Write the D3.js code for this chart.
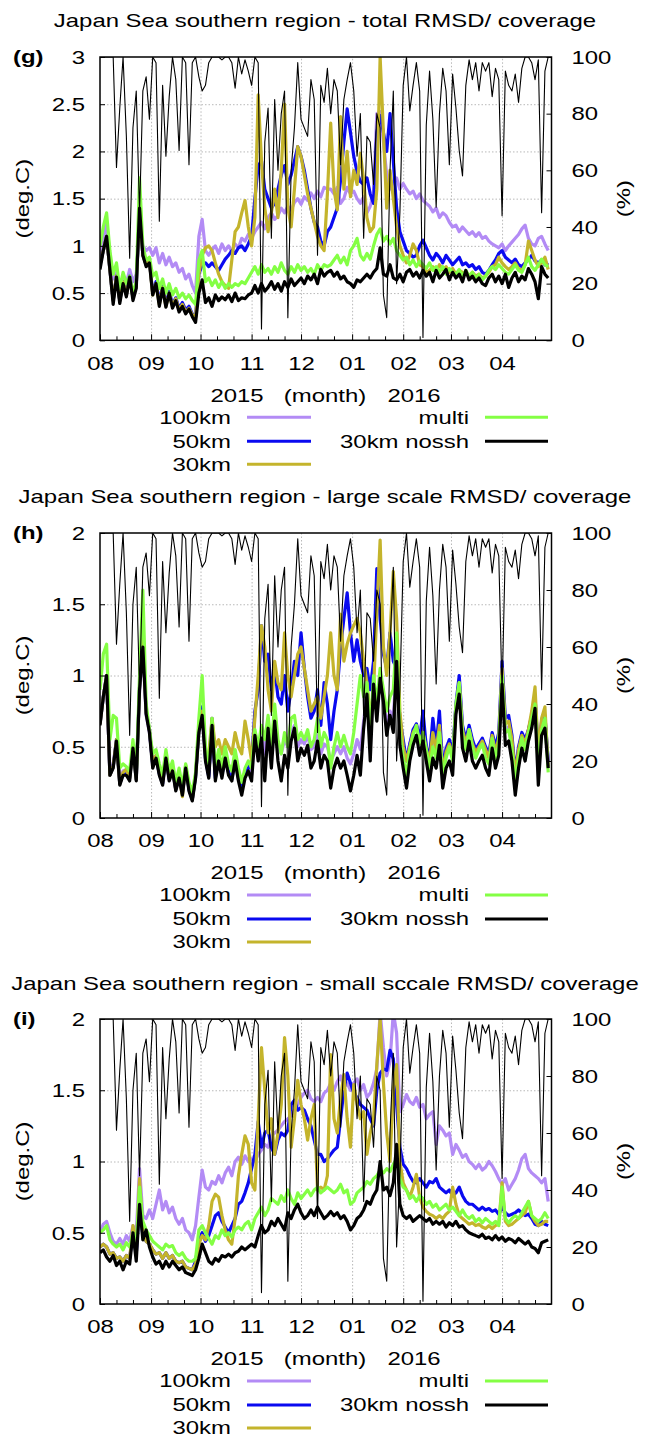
<!DOCTYPE html>
<html><head><meta charset="utf-8">
<script src="https://cdn.jsdelivr.net/npm/d3@7"></script>
<style>
html,body{margin:0;padding:0;background:#fff;}
svg{display:block;}
text{font-family:"Liberation Sans",Arial,Helvetica,sans-serif;fill:#000;}
</style></head><body>
<svg id="chart" width="645" height="1437"></svg>
<script>
// ---------------- DATA ----------------
const startDate = "2015-08-01";
const endDate = "2016-05-01";
const seriesStepDays = 2;     // every series: one value every 2 days from startDate
const coverageStepDays = 2;
const monthLabels = ["08","09","10","11","12","01","02","03","04"];
const seriesNames = ["100km","50km","30km","multi","30km nossh"];
const panelTitles = [
  "Japan Sea southern region - total RMSD/ coverage",
  "Japan Sea southern region - large scale RMSD/ coverage",
  "Japan Sea southern region - small sccale RMSD/ coverage"
];
const panelTags = ["(g)","(h)","(i)"];
const yTicksG = [0,0.5,1,1.5,2,2.5,3];
const yTicksHI = [0,0.5,1,1.5,2];
const y2Ticks = [0,20,40,60,80,100];

// coverage (%) shared by all panels
const coverage = [100,100,100,100,100,61,82,100,72,29,75,88,45,88,93,78,100,98,42,90,65,86,100,92,67,100,98,62,98,100,93,88,90,98,100,100,100,99,100,100,98,89,100,94,99,95,90,100,98,4,70,82,36,85,60,80,88,8,60,75,98,78,75,72,92,85,30,90,84,96,
  80,92,88,62,85,92,98,88,65,80,36,72,70,55,80,75,16,8,60,88,20,45,90,100,81,90,98,88,1,76,95,78,47,80,96,88,62,94,82,67,58,90,99,92,98,88,98,95,98,86,96,92,44,95,90,88,94,84,96,100,100,98,92,99,45,95,100];

// (g) total RMSD
const g100 = [0.8,1.05,1.25,0.9,0.65,0.72,0.55,0.68,0.6,0.75, 0.62,0.7,1.2,1.0,0.95,0.98,0.9,0.98,0.82,0.92, 0.8,0.88,0.78,0.82,0.72,0.76,0.65,0.7,0.58,0.5, 1.1,1.28,0.95,0.9,0.96,1.0,0.92,1.02,0.95,1.0, 0.94,1.02,0.98,1.08,1.05,1.12,1.08,1.15,1.2,1.25, 1.18,1.3,1.35,1.28,1.32,1.4,1.35,1.42,1.38,1.46, 1.5,1.44,1.52,1.48,1.56,1.5,1.58,1.52,1.62,1.6,
  1.6,1.55,1.62,1.45,1.5,1.62,1.55,1.58,1.5,1.45, 1.52,1.35,1.42,1.55,2.4,2.42,2.1,1.75,1.6,1.68, 1.72,1.6,1.66,1.6,1.55,1.58,1.5,1.55,1.48,1.45, 1.42,1.36,1.4,1.3,1.35,1.32,1.25,1.2,1.22,1.15, 1.2,1.16,1.12,1.15,1.1,1.14,1.08,1.1,1.05,1.02, 1.0,0.98,1.02,0.95,1.0,1.04,1.08,1.12,1.18,1.22, 1.08,1.02,1.0,1.08,1.1,1.02,0.95];
const g50 = [0.8,0.95,1.1,0.75,0.42,0.68,0.42,0.62,0.48,0.68, 0.45,0.58,1.4,0.9,0.8,0.84,0.5,0.62,0.4,0.58, 0.38,0.52,0.38,0.45,0.34,0.4,0.32,0.36,0.28,0.25, 0.7,0.8,0.82,0.78,0.82,0.78,0.74,0.8,0.86,0.9, 0.95,0.92,0.98,1.0,0.95,1.02,1.1,1.5,1.85,1.9, 1.6,1.5,1.4,1.45,1.6,1.75,1.85,1.65,1.75,1.9, 2.05,1.95,1.8,1.6,1.4,1.25,1.2,1.05,1.0,1.15,
  1.2,1.3,1.4,1.7,2.1,2.45,2.2,1.95,1.78,1.68, 1.65,1.72,1.55,1.45,2.2,2.38,2.2,2.0,2.4,1.9, 1.4,1.15,1.05,0.95,0.92,0.88,0.9,1.0,1.06,0.98, 0.9,0.85,0.92,0.88,0.82,0.9,0.85,0.8,0.84,0.88, 0.8,0.82,0.78,0.8,0.75,0.78,0.72,0.7,0.74,0.8, 0.85,0.92,0.95,0.88,0.85,0.82,0.86,0.8,0.78,0.82, 0.85,0.9,0.84,0.82,0.85,0.8,0.82];
const g30 = [0.8,0.95,1.1,0.75,0.42,0.68,0.42,0.62,0.48,0.66, 0.45,0.58,1.4,0.9,0.8,0.84,0.48,0.6,0.38,0.56, 0.36,0.5,0.36,0.44,0.32,0.38,0.3,0.34,0.27,0.24, 0.7,0.9,0.98,1.0,0.95,0.82,0.7,0.62,0.58,0.55, 0.85,1.15,1.2,1.35,1.48,1.2,1.0,1.3,2.6,1.9, 1.4,1.15,1.35,1.6,1.3,1.8,2.5,1.4,1.2,1.6, 2.05,1.95,1.75,1.55,1.4,1.25,1.1,1.0,0.95,1.55,
  2.3,1.6,1.38,2.37,1.6,2.0,1.52,1.8,1.65,1.98, 1.7,1.3,1.15,1.2,1.6,3.0,2.2,1.4,1.8,1.5, 1.2,1.0,0.9,0.82,0.9,1.02,0.95,0.8,0.78,0.72, 0.74,0.78,0.72,0.8,0.75,0.78,0.72,0.76,0.7,0.74, 0.72,0.7,0.68,0.72,0.68,0.7,0.66,0.68,0.72,0.78, 0.8,0.88,0.82,0.78,0.75,0.78,0.82,0.76,0.74,0.8, 1.05,0.95,0.85,0.78,0.82,0.88,0.75];
const gMulti = [1.0,1.2,1.35,0.95,0.7,0.82,0.55,0.72,0.6,0.68, 0.5,0.62,1.72,1.0,0.85,0.88,0.68,0.72,0.55,0.65, 0.5,0.6,0.48,0.55,0.45,0.5,0.44,0.48,0.42,0.38, 0.85,0.95,0.62,0.66,0.58,0.64,0.56,0.62,0.55,0.6, 0.56,0.6,0.58,0.62,0.6,0.66,0.72,0.78,0.7,0.8, 0.72,0.76,0.7,0.78,0.72,0.82,0.74,0.7,0.78,0.72, 0.8,0.74,0.78,0.72,0.76,0.7,0.8,0.74,0.8,0.78,
  0.8,0.85,0.9,0.82,0.88,0.8,0.95,1.0,1.08,0.9, 0.85,0.92,0.86,1.0,1.12,1.18,1.05,1.1,1.02,1.08, 0.95,0.9,0.85,0.88,0.8,0.85,0.78,0.84,0.8,0.76, 0.82,0.74,0.78,0.72,0.78,0.7,0.76,0.72,0.7,0.75, 0.68,0.74,0.68,0.72,0.66,0.7,0.64,0.68,0.74,0.78, 0.75,0.8,0.76,0.72,0.7,0.75,0.8,0.74,0.72,0.8, 0.88,0.78,0.74,0.8,0.86,0.8,0.78];
const gNossh = [0.75,0.95,1.1,0.75,0.38,0.67,0.39,0.6,0.46,0.67, 0.42,0.55,1.4,0.9,0.78,0.82,0.48,0.6,0.36,0.55, 0.35,0.5,0.34,0.42,0.3,0.36,0.28,0.33,0.25,0.19, 0.5,0.64,0.4,0.45,0.36,0.48,0.42,0.46,0.43,0.48, 0.41,0.5,0.42,0.45,0.44,0.48,0.5,0.58,0.5,0.6, 0.52,0.56,0.62,0.54,0.6,0.52,0.62,0.56,0.65,0.58, 0.62,0.66,0.6,0.68,0.64,0.7,0.6,0.75,0.68,0.72,
  0.74,0.68,0.72,0.65,0.68,0.62,0.6,0.56,0.64,0.62, 0.66,0.7,0.66,0.72,0.76,0.98,0.7,0.68,0.8,0.66, 0.64,0.7,0.62,0.72,0.75,0.68,0.72,0.66,0.74,0.68, 0.72,0.62,0.74,0.66,0.7,0.75,0.64,0.72,0.66,0.7, 0.62,0.74,0.64,0.68,0.62,0.66,0.6,0.58,0.66,0.7, 0.62,0.68,0.6,0.7,0.56,0.66,0.72,0.62,0.68,0.64, 0.76,0.7,0.62,0.44,0.78,0.7,0.66];

// (h) large scale RMSD
const h100 = [0.68,0.85,0.98,0.32,0.38,0.55,0.26,0.33,0.34,0.3, 0.5,0.3,0.9,1.2,0.72,0.6,0.38,0.44,0.33,0.26, 0.44,0.3,0.36,0.22,0.3,0.2,0.36,0.22,0.15,0.3, 0.62,0.74,0.42,0.3,0.66,0.3,0.42,0.32,0.44,0.33, 0.3,0.42,0.3,0.2,0.3,0.35,0.3,0.6,0.45,0.6, 0.45,0.65,0.5,0.7,0.5,0.45,0.55,0.5,0.6,0.65, 0.5,0.55,0.52,0.58,0.48,0.5,0.6,0.45,0.52,0.5,
  0.4,0.45,0.5,0.45,0.5,0.42,0.38,0.45,0.55,0.48, 0.68,0.88,0.52,0.95,0.75,1.0,0.85,0.65,0.75,0.7, 1.1,0.6,0.5,0.4,0.52,0.6,0.66,0.55,0.62,0.52, 0.42,0.52,0.48,0.6,0.4,0.5,0.54,0.45,0.76,0.9, 0.6,0.52,0.62,0.52,0.48,0.52,0.55,0.48,0.44,0.58, 0.48,0.55,1.02,0.62,0.64,0.52,0.32,0.48,0.58,0.52, 0.62,0.7,0.82,0.4,0.66,0.7,0.4];
const h50 = [0.66,0.85,1.0,0.3,0.36,0.55,0.24,0.31,0.32,0.28, 0.5,0.27,0.92,1.25,0.74,0.62,0.37,0.43,0.31,0.24, 0.43,0.27,0.34,0.2,0.29,0.17,0.36,0.2,0.13,0.29, 0.62,0.78,0.42,0.29,0.7,0.28,0.42,0.3,0.44,0.32, 0.27,0.42,0.28,0.22,0.3,0.35,0.4,0.75,0.9,1.35, 1.1,1.15,0.9,1.05,0.85,0.8,1.0,0.75,0.9,1.1, 1.0,1.3,1.05,0.85,0.7,0.75,0.9,0.65,0.95,0.8,
  0.55,0.75,0.9,1.2,1.4,1.58,1.3,1.1,1.25,1.1, 1.0,1.05,0.9,1.1,1.75,1.4,1.15,1.05,1.3,1.1, 1.05,0.7,0.55,0.4,0.52,0.62,0.66,0.55,0.75,0.5, 0.42,0.7,0.5,0.75,0.35,0.48,0.55,0.45,0.8,1.0, 0.65,0.55,0.65,0.55,0.48,0.52,0.56,0.5,0.45,0.6, 0.5,0.6,1.1,0.7,0.72,0.58,0.32,0.5,0.6,0.55, 0.62,0.72,0.85,0.45,0.68,0.72,0.4];
const h30 = [0.66,0.85,1.0,0.3,0.36,0.55,0.24,0.32,0.34,0.28, 0.5,0.27,0.92,1.25,0.74,0.62,0.38,0.44,0.32,0.25, 0.44,0.28,0.35,0.2,0.3,0.15,0.37,0.21,0.13,0.3, 0.62,0.75,0.45,0.45,0.7,0.5,0.55,0.45,0.55,0.5, 0.45,0.6,0.5,0.45,0.68,0.55,0.4,0.7,1.0,1.35, 1.2,0.9,0.75,1.1,0.95,0.9,1.3,1.0,0.85,1.0, 1.15,1.2,1.05,0.9,0.75,0.8,0.85,0.7,0.85,1.0,
  1.3,1.0,0.9,1.43,1.1,1.22,1.3,1.35,1.4,1.3, 1.1,0.95,0.7,0.9,1.45,1.95,1.2,1.0,1.3,1.73, 1.4,0.75,0.5,0.4,0.5,0.6,0.64,0.52,0.6,0.48, 0.4,0.6,0.48,0.65,0.32,0.46,0.52,0.42,0.78,0.95, 0.62,0.52,0.62,0.52,0.46,0.5,0.54,0.48,0.42,0.58, 0.46,0.56,1.05,0.66,0.68,0.55,0.3,0.48,0.58,0.52, 0.62,0.75,0.92,0.45,0.7,0.78,0.36];
const hMulti = [0.9,1.15,1.22,0.55,0.72,0.7,0.35,0.38,0.36,0.33, 0.55,0.3,1.0,1.6,0.8,0.62,0.45,0.48,0.38,0.3, 0.48,0.33,0.4,0.25,0.35,0.22,0.38,0.25,0.18,0.32, 0.7,1.0,0.5,0.35,0.7,0.35,0.48,0.35,0.5,0.38, 0.33,0.48,0.35,0.25,0.35,0.4,0.35,0.62,0.5,0.65, 0.55,0.72,0.5,0.8,0.55,0.45,0.6,0.5,0.7,0.72, 0.55,0.6,0.55,0.62,0.5,0.55,0.7,0.5,0.6,0.55,
  0.35,0.5,0.6,0.5,0.58,0.5,0.45,0.6,0.8,1.0, 0.85,0.95,0.6,1.0,0.8,1.05,0.9,0.75,0.85,0.9, 1.3,0.6,0.42,0.3,0.48,0.58,0.65,0.52,0.6,0.48, 0.35,0.5,0.42,0.6,0.3,0.42,0.5,0.4,0.8,0.95, 0.58,0.48,0.62,0.5,0.42,0.48,0.52,0.42,0.38,0.56, 0.42,0.52,1.0,0.6,0.62,0.48,0.25,0.42,0.56,0.48, 0.6,0.7,0.8,0.35,0.62,0.7,0.32];
const hNossh = [0.65,0.85,1.0,0.3,0.35,0.54,0.23,0.3,0.3,0.26, 0.49,0.26,0.9,1.2,0.73,0.6,0.35,0.42,0.3,0.23, 0.42,0.26,0.33,0.19,0.28,0.16,0.35,0.19,0.12,0.28, 0.6,0.72,0.4,0.28,0.65,0.26,0.4,0.28,0.42,0.3, 0.26,0.4,0.26,0.16,0.28,0.33,0.26,0.58,0.4,0.56, 0.26,0.63,0.35,0.68,0.4,0.26,0.44,0.35,0.54,0.63, 0.4,0.49,0.44,0.51,0.35,0.4,0.54,0.35,0.44,0.4,
  0.21,0.35,0.42,0.35,0.4,0.3,0.19,0.3,0.44,0.3, 0.63,0.87,0.4,0.94,0.68,0.98,0.82,0.58,0.72,0.6, 1.1,0.51,0.35,0.21,0.4,0.51,0.58,0.44,0.54,0.4, 0.26,0.42,0.35,0.51,0.21,0.35,0.4,0.3,0.73,0.87, 0.49,0.4,0.54,0.4,0.35,0.4,0.44,0.35,0.3,0.49, 0.35,0.44,0.94,0.51,0.54,0.4,0.16,0.35,0.49,0.4, 0.54,0.63,0.77,0.23,0.58,0.63,0.35];

// (i) small scale RMSD
const i100 = [0.5,0.56,0.58,0.5,0.44,0.42,0.46,0.42,0.48,0.44, 0.55,0.5,0.95,0.62,0.6,0.66,0.6,0.7,0.8,0.66, 0.72,0.64,0.68,0.6,0.56,0.6,0.52,0.5,0.45,0.55, 0.75,0.94,0.82,0.8,0.86,0.84,0.9,0.85,0.92,0.96, 0.9,1.0,1.03,0.98,1.04,1.0,1.02,1.0,1.05,1.08, 1.12,1.1,1.18,1.2,1.22,1.25,1.28,1.3,1.32,1.36, 1.4,1.45,1.48,1.5,1.44,1.42,1.45,1.42,1.48,1.5,
  1.55,1.5,1.56,1.6,1.52,1.55,1.5,1.55,1.58,1.5, 1.54,1.45,1.48,1.55,1.65,2.05,1.8,1.6,1.7,2.05, 1.9,1.35,1.4,1.47,1.42,1.4,1.45,1.38,1.4,1.3, 1.33,1.35,1.12,1.25,1.22,1.18,1.2,1.05,1.12,1.08, 1.03,1.05,1.0,0.98,0.95,0.98,0.94,0.96,1.0,0.97, 0.93,0.88,0.84,0.88,0.8,0.84,0.88,0.94,1.02,1.05, 0.95,0.92,0.9,0.88,0.85,0.88,0.72];
const i50 = [0.4,0.42,0.4,0.35,0.36,0.32,0.33,0.3,0.34,0.32, 0.5,0.35,0.72,0.48,0.44,0.42,0.38,0.35,0.36,0.32, 0.36,0.32,0.34,0.3,0.29,0.3,0.26,0.25,0.24,0.3, 0.45,0.5,0.44,0.48,0.55,0.62,0.64,0.58,0.54,0.5, 0.55,0.6,0.7,0.72,0.78,0.85,0.95,1.05,1.28,1.1, 1.2,1.22,1.1,1.05,1.15,1.2,1.18,1.22,1.4,1.43, 1.36,1.38,1.36,1.3,1.25,1.15,1.05,1.05,1.0,1.02,
  1.05,1.08,1.1,1.3,1.5,1.62,1.55,1.48,1.45,1.4, 1.38,1.36,1.3,1.25,1.5,1.62,1.65,1.64,1.78,1.72, 1.4,1.1,0.98,0.95,0.9,0.86,0.85,0.88,0.85,0.82, 0.86,0.85,0.88,0.82,0.8,0.78,0.8,0.76,0.78,0.82, 0.76,0.72,0.7,0.7,0.68,0.66,0.68,0.66,0.67,0.65, 0.66,0.63,0.68,0.64,0.62,0.63,0.64,0.66,0.64,0.62, 0.63,0.6,0.56,0.55,0.58,0.56,0.55];
const i30 = [0.4,0.42,0.4,0.35,0.36,0.32,0.33,0.3,0.34,0.32, 0.55,0.38,0.88,0.5,0.44,0.42,0.38,0.35,0.36,0.32, 0.36,0.32,0.34,0.3,0.29,0.3,0.26,0.25,0.24,0.28, 0.42,0.48,0.45,0.55,0.72,0.77,0.75,0.62,0.52,0.45, 0.42,0.6,0.9,1.05,1.18,1.12,0.85,0.8,1.3,1.8, 1.5,1.2,1.3,1.05,1.2,1.4,1.87,1.6,1.1,1.3, 1.57,1.4,1.3,1.15,1.3,1.4,0.8,0.82,0.8,0.9,
  1.75,1.3,1.2,1.45,1.61,1.3,1.1,1.54,1.4,1.3, 1.35,1.05,1.2,1.3,1.68,2.0,1.55,1.2,1.0,1.5, 1.68,1.0,0.85,0.8,0.75,0.82,0.91,0.75,0.68,0.65, 0.63,0.62,0.6,0.62,0.6,0.63,0.65,0.82,0.7,0.62, 0.6,0.58,0.56,0.57,0.55,0.56,0.54,0.53,0.55,0.53, 0.55,0.56,0.85,0.58,0.55,0.56,0.58,0.6,0.62,0.64, 0.72,0.62,0.58,0.55,0.56,0.58,0.58];
const iMulti = [0.5,0.52,0.55,0.45,0.42,0.4,0.42,0.38,0.43,0.4, 0.5,0.42,0.82,0.58,0.52,0.48,0.44,0.42,0.4,0.38, 0.42,0.4,0.41,0.36,0.34,0.36,0.32,0.3,0.3,0.32, 0.52,0.55,0.5,0.46,0.42,0.48,0.46,0.52,0.48,0.5, 0.47,0.52,0.54,0.52,0.56,0.58,0.52,0.6,0.64,0.68, 0.62,0.66,0.74,0.72,0.7,0.76,0.72,0.8,0.74,0.7, 0.78,0.74,0.77,0.8,0.76,0.8,0.82,0.78,0.8,0.82,
  0.8,0.78,0.8,0.84,0.78,0.8,0.7,0.72,0.78,0.8, 0.82,0.86,0.84,0.88,0.9,0.94,0.92,0.95,0.93,0.98, 1.02,0.88,0.82,0.8,0.74,0.76,0.72,0.76,0.74,0.7, 0.72,0.68,0.7,0.66,0.68,0.7,0.66,0.68,0.65,0.62, 0.66,0.62,0.6,0.62,0.58,0.6,0.57,0.6,0.58,0.56, 0.58,0.55,0.82,0.6,0.57,0.6,0.62,0.6,0.64,0.68, 0.72,0.62,0.6,0.58,0.6,0.64,0.6];
const iNossh = [0.36,0.38,0.33,0.3,0.34,0.27,0.3,0.24,0.3,0.28, 0.5,0.3,0.7,0.45,0.52,0.4,0.33,0.28,0.3,0.25, 0.3,0.26,0.3,0.27,0.24,0.26,0.22,0.21,0.2,0.24, 0.32,0.42,0.36,0.3,0.28,0.32,0.3,0.34,0.33,0.35, 0.33,0.36,0.37,0.4,0.38,0.4,0.42,0.4,0.48,0.55, 0.5,0.52,0.58,0.55,0.6,0.56,0.52,0.64,0.6,0.66, 0.7,0.64,0.6,0.62,0.66,0.62,0.68,0.64,0.6,0.62,
  0.65,0.62,0.64,0.6,0.62,0.58,0.52,0.55,0.6,0.62, 0.66,0.72,0.7,0.76,0.8,1.0,0.8,0.82,0.76,0.85, 1.12,0.7,0.62,0.6,0.62,0.58,0.6,0.62,0.6,0.58, 0.6,0.56,0.58,0.56,0.58,0.54,0.57,0.55,0.58,0.54, 0.55,0.52,0.5,0.49,0.48,0.47,0.49,0.46,0.47,0.45, 0.48,0.45,0.47,0.44,0.46,0.45,0.43,0.46,0.44,0.42, 0.44,0.4,0.39,0.36,0.43,0.44,0.45];

// ---------------- LAYOUT / STYLE ----------------
const seriesColors = ["#b38bf5","#0a0af0","#c4b42c","#84ff44","#000000"];
const X0 = 100, X1 = 551.5;
const FS = 18, SX = 1.33;
const FONT = '"Liberation Sans", Arial, Helvetica, sans-serif';
const panels = [
  {title: panelTitles[0], tag: panelTags[0], yTicks: yTicksG, top: 57, bottom: 340.3, titleY: 21, data: [g100,g50,g30,gMulti,gNossh]},
  {title: panelTitles[1], tag: panelTags[1], yTicks: yTicksHI, top: 533, bottom: 818, titleY: 497, data: [h100,h50,h30,hMulti,hNossh]},
  {title: panelTitles[2], tag: panelTags[2], yTicks: yTicksHI, top: 1019, bottom: 1304, titleY: 984, data: [i100,i50,i30,iMulti,iNossh]}
];

const svg = d3.select("#chart");
const parseDay = d3.timeParse("%Y-%m-%d");
const t0 = parseDay(startDate), t1 = parseDay(endDate);
const x = d3.scaleTime().domain([t0, t1]).range([X0, X1]);
const monthDates = d3.timeMonth.range(t0, t1);
const minorDates = d3.timeDay.range(t0, t1).filter(d => d.getDate() === 11 || d.getDate() === 21);

function label(g, px, py, s, anchor, opts = {}) {
  const rot = opts.rotate ? ` rotate(${opts.rotate})` : "";
  return g.append("text")
    .attr("transform", `translate(${px},${py})${rot} scale(${SX},1)`)
    .attr("text-anchor", anchor)
    .attr("dy", "0.35em")
    .style("font-size", (opts.size || FS) + "px")
    .style("font-weight", opts.bold ? "bold" : "normal")
    .text(s);
}

function styleAxisText(sel, xOff, yOff, anchor) {
  sel.selectAll("text")
    .attr("x", xOff / SX).attr("y", yOff).attr("dy", "0.35em")
    .attr("transform", `scale(${SX},1)`)
    .attr("text-anchor", anchor)
    .attr("fill", "#000")
    .style("font-size", FS + "px").style("font-family", FONT);
}

panels.forEach((p, pi) => {
  const g = svg.append("g");
  const y = d3.scaleLinear().domain([0, d3.max(p.yTicks)]).range([p.bottom, p.top]);
  const y2 = d3.scaleLinear().domain([0, 100]).range([p.bottom, p.top]);
  const h = p.bottom - p.top;

  // grid
  g.append("g").attr("transform", `translate(${X0},0)`)
    .call(d3.axisLeft(y).tickValues(p.yTicks.slice(1, -1)).tickSize(-(X1 - X0)).tickFormat(""))
    .call(s => { s.select(".domain").remove(); s.selectAll("line").attr("stroke", "#b8b8b8").attr("stroke-dasharray", "1.5,2"); });
  g.append("g").attr("transform", `translate(0,${p.bottom})`)
    .call(d3.axisBottom(x).tickValues(monthDates.slice(1)).tickSize(-h).tickFormat(""))
    .call(s => { s.select(".domain").remove(); s.selectAll("line").attr("stroke", "#b8b8b8").attr("stroke-dasharray", "1.5,2"); });

  // clip
  const cid = "clip" + pi;
  svg.append("clipPath").attr("id", cid).append("rect")
    .attr("x", X0).attr("y", p.top).attr("width", X1 - X0).attr("height", h);
  const plot = g.append("g").attr("clip-path", `url(#${cid})`);

  const line = d3.line().x(d => x(d.t)).y(d => y(d.v));
  p.data.forEach((arr, si) => {
    const pts = arr.map((v, i) => ({t: d3.timeDay.offset(t0, i * seriesStepDays), v}));
    plot.append("path").datum(pts).attr("d", line)
      .attr("fill", "none").attr("stroke", seriesColors[si]).attr("stroke-width", 3.2)
      .attr("stroke-linejoin", "round");
  });
  const covLine = d3.line().x(d => x(d.t)).y(d => y2(d.v));
  const cpts = coverage.map((v, i) => ({t: d3.timeDay.offset(t0, i * coverageStepDays), v}));
  plot.append("path").datum(cpts).attr("d", covLine)
    .attr("fill", "none").attr("stroke", "#000").attr("stroke-width", 1.1).attr("stroke-linejoin", "round");

  // axes
  const ax = g.append("g").attr("transform", `translate(${X0},0)`)
    .call(d3.axisLeft(y).tickValues(p.yTicks).tickSizeInner(-5).tickSizeOuter(0).tickFormat(d3.format("~g")));
  ax.select(".domain").remove();
  ax.selectAll("line").attr("stroke", "#000");
  styleAxisText(ax, -15, 0, "end");

  const ax2 = g.append("g").attr("transform", `translate(${X1},0)`)
    .call(d3.axisRight(y2).tickValues(y2Ticks).tickSizeInner(-5).tickSizeOuter(0));
  ax2.select(".domain").remove();
  ax2.selectAll("line").attr("stroke", "#000");
  styleAxisText(ax2, 20, 0, "start");

  const axb = g.append("g").attr("transform", `translate(0,${p.bottom})`)
    .call(d3.axisBottom(x).tickValues(monthDates).tickSizeInner(-6).tickSizeOuter(0).tickFormat((d, i) => monthLabels[i]));
  axb.select(".domain").remove();
  axb.selectAll("line").attr("stroke", "#000");
  styleAxisText(axb, 0, 23, "middle");

  const axm = g.append("g").attr("transform", `translate(0,${p.bottom})`)
    .call(d3.axisBottom(x).tickValues(minorDates).tickSizeInner(-4).tickSizeOuter(0).tickFormat(""));
  axm.select(".domain").remove();
  axm.selectAll("line").attr("stroke", "#000");

  // border
  g.append("rect").attr("x", X0).attr("y", p.top).attr("width", X1 - X0).attr("height", h)
    .attr("fill", "none").attr("stroke", "#000").attr("stroke-width", 1.5);

  // texts
  label(g, 325, p.titleY, p.title, "middle");
  label(g, 13, p.top, p.tag, "start", {bold: true});
  label(g, 23, (p.top + p.bottom) / 2, "(deg.C)", "middle", {rotate: -90});
  label(g, 624, (p.top + p.bottom) / 2, "(%)", "middle", {rotate: -90});
  label(g, 237, p.bottom + 55, "2015", "middle");
  label(g, 325, p.bottom + 55, "(month)", "middle");
  label(g, 414, p.bottom + 55, "2016", "middle");

  // legend
  const rows = [77, 101, 124];
  seriesNames.forEach((name, si) => {
    const col = si < 3 ? 0 : 1;
    const row = si < 3 ? si : si - 3;
    const ly = p.bottom + rows[row];
    const textX = col === 0 ? 231 : 469;
    const lx0 = col === 0 ? 247 : 485, lx1 = col === 0 ? 311 : 548;
    label(g, textX, ly, name, "end");
    g.append("line").attr("x1", lx0).attr("x2", lx1).attr("y1", ly).attr("y2", ly)
      .attr("stroke", seriesColors[si]).attr("stroke-width", 3);
  });
});
</script>
</body></html>
